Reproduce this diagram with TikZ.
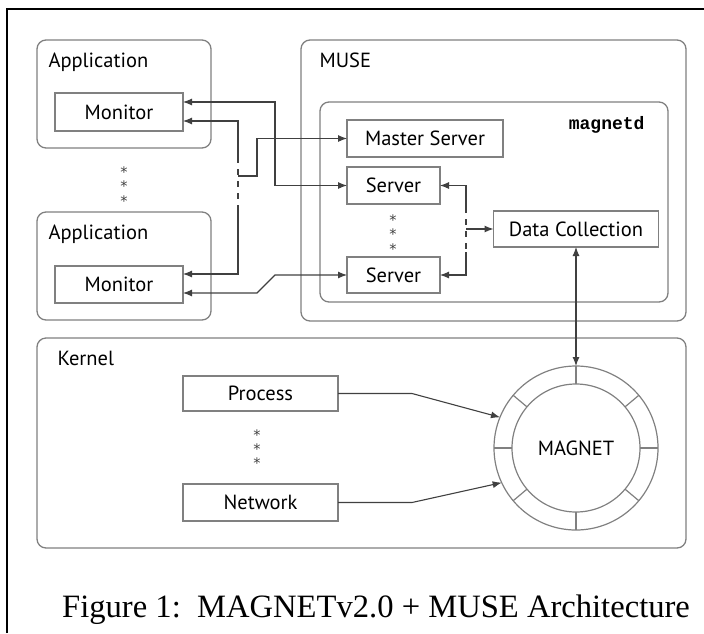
\documentclass[tikz,border=0pt]{standalone}
\usepackage{fontspec}
\setmainfont{PT Sans}
\setmonofont{Liberation Mono}
\newfontfamily\captionfont{Liberation Serif}
\newfontfamily\starfont{DejaVu Sans}
\usetikzlibrary{arrows.meta}

\definecolor{boxgray}{HTML}{808080}
\definecolor{linegray}{HTML}{404040}

\begin{document}
\begin{tikzpicture}[
    x=1pt, y=-1pt,
    font=\fontsize{20.5}{22}\selectfont,
    >={Latex[length=9pt,width=7pt]},
    group/.style={rectangle, rounded corners=9pt, draw=boxgray, line width=1.3pt, inner sep=0pt, outer sep=0pt},
    block/.style={rectangle, draw=boxgray, line width=1.2pt, inner sep=0pt, outer sep=0pt, text=black},
    title/.style={anchor=base west, text=black},
    link/.style={draw=linegray, line width=1.1pt},
    gap/.style={link, dash pattern=on 6pt off 6pt},
    ring/.style={draw=boxgray, line width=1.2pt},
    star/.style={anchor=base, inner sep=0pt, text=black!75, font=\starfont\fontsize{14.5}{14.5}\selectfont}
]
\useasboundingbox (0,0) rectangle (704,633);
\draw[line width=1.5pt] (7,633) -- (7,9) -- (704,9);

% outer groups
\node[group, minimum width=174pt, minimum height=108pt] (app1) at (124,94) {};
\node[group, minimum width=174pt, minimum height=108pt] (app2) at (124,266) {};
\node[group, minimum width=385pt, minimum height=281pt] (muse) at (493.5,180.5) {};
\node[group, minimum width=348pt, minimum height=200pt] (magnetd) at (494,202) {};
\node[group, minimum width=649pt, minimum height=210pt] (kernel) at (361.5,443) {};

\node[title] (app1lbl) at (45,67) {Application};
\node[title] (app2lbl) at (45,239) {Application};
\node[title] (muselbl) at (316,67) {MUSE};
\node[title] (kernlbl) at (54,365) {Kernel};
\node[anchor=base east] (daemon) at (648,129) {\ttfamily\bfseries\fontsize{18}{20}\selectfont magnetd};

% blocks
\node[block, minimum width=128pt, minimum height=38pt] (mon1) at (119,112) {Monitor};
\node[block, minimum width=128pt, minimum height=37pt] (mon2) at (119,284.5) {Monitor};
\node[block, minimum width=156pt, minimum height=37pt] (master) at (425,138.5) {Master Server};
\node[block, minimum width=93pt, minimum height=37pt] (srv1) at (393.5,185.5) {Server};
\node[block, minimum width=93pt, minimum height=36pt] (srv2) at (393.5,275) {Server};
\node[block, minimum width=165pt, minimum height=36pt] (dc) at (576,229) {Data Collection};
\node[block, minimum width=155pt, minimum height=35pt] (proc) at (260.5,393.5) {Process};
\node[block, minimum width=155pt, minimum height=37pt] (net) at (260.5,502.5) {Network};

% elided entries
\foreach \i/\y in {1/169,2/183.5,3/198}
    \node[star] (appdots\i) at (124,\y+8) {*};
\foreach \i/\y in {1/217,2/231.5,3/246}
    \node[star] (srvdots\i) at (393,\y+8) {*};
\foreach \i/\y in {1/432,2/446,3/460}
    \node[star] (kerndots\i) at (257,\y+8) {*};

% MAGNET ring
\node[circle, draw=boxgray, line width=1.2pt, minimum size=164pt, inner sep=0pt, outer sep=0pt] (magnet) at (576,448) {};
\node[circle, draw=boxgray, line width=1.2pt, minimum size=128pt, inner sep=0pt, outer sep=0pt, text=black] (core) at (576,448) {MAGNET};
\foreach \a in {0,40,90,140,180,220,270,320}
    \draw[ring] (magnet.\a) -- (core.\a);

% monitors <-> servers
\draw[link, <->] ([yshift=10pt]mon1.east) -| (275,185.5) -- (srv1.west);
\draw[link, <-] ([yshift=-9pt]mon1.east) -| (238,157);
\draw[gap] (238,157) -- (238,210);
\draw[link, ->] (238,210) |- ([yshift=10.5pt]mon2.east);
\draw[link, ->] (238,176) -| (257,138.5) -- (master.west);
\draw[link, <->] ([yshift=-8.5pt]mon2.east) -- (257,293) -- (275,275) -- (srv2.west);

% servers -> data collection
\draw[link, <-] (srv1.east) -| (466,207);
\draw[gap] (466,207) -- (466,252);
\draw[link, ->] (466,252) |- (srv2.east);
\draw[link, ->] (466,229) -- (dc.west);
\draw[link, <->] (dc.south) -- (magnet.north);

% kernel -> MAGNET
\draw[link, ->] (proc.east) -- (412,393.5) -- (magnet.158);
\draw[link, ->] (net.east) -- (412,502.5) -- (magnet.205);

\node[anchor=base west, inner sep=0pt] (caption) at (62,617)
    {\captionfont\fontsize{32.6}{36}\selectfont Figure 1:\ \ MAGNETv2.0 + MUSE Architecture};
\end{tikzpicture}
\end{document}
